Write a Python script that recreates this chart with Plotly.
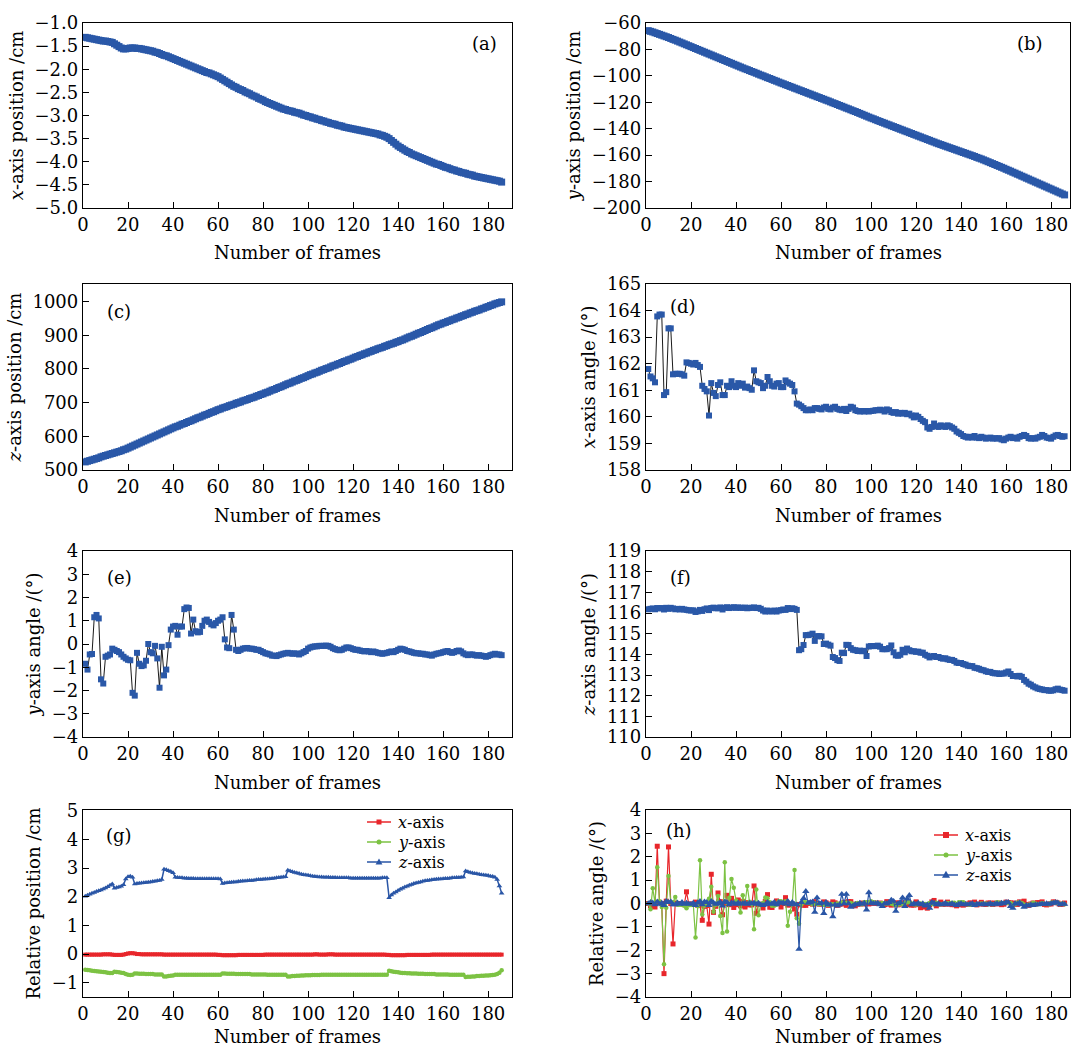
import plotly.graph_objects as go

FONT = "DejaVu Serif"
W, H = 1073, 1049
BLUE = "#2a58a8"
RED = "#e8262b"
GREEN = "#7cc243"
ZBLUE = "#2a56a6"

# ---------------- data ----------------
x_position = [
    -1.31, -1.32, -1.33, -1.34, -1.35, -1.36, -1.37, -1.38, -1.39, -1.39,
    -1.40, -1.41, -1.42, -1.45, -1.48, -1.51, -1.54, -1.56, -1.56, -1.55,
    -1.54, -1.54, -1.54, -1.55, -1.55, -1.56, -1.57, -1.58, -1.59, -1.60,
    -1.61, -1.63, -1.64, -1.66, -1.68, -1.70, -1.71, -1.73, -1.75, -1.77,
    -1.79, -1.81, -1.83, -1.85, -1.87, -1.89, -1.91, -1.93, -1.95, -1.97,
    -1.99, -2.01, -2.03, -2.05, -2.07, -2.08, -2.10, -2.12, -2.14, -2.16,
    -2.19, -2.22, -2.25, -2.28, -2.31, -2.34, -2.37, -2.39, -2.42, -2.44,
    -2.46, -2.49, -2.51, -2.53, -2.56, -2.58, -2.60, -2.63, -2.65, -2.67,
    -2.70, -2.72, -2.74, -2.76, -2.78, -2.80, -2.82, -2.84, -2.86, -2.87,
    -2.89, -2.90, -2.91, -2.93, -2.94, -2.95, -2.97, -2.99, -3.00, -3.02,
    -3.03, -3.05, -3.06, -3.08, -3.09, -3.11, -3.12, -3.14, -3.15, -3.17,
    -3.18, -3.19, -3.21, -3.22, -3.23, -3.25, -3.26, -3.27, -3.28, -3.29,
    -3.30, -3.31, -3.32, -3.33, -3.34, -3.35, -3.36, -3.37, -3.38, -3.39,
    -3.40, -3.42, -3.43, -3.45, -3.47, -3.50, -3.54, -3.58, -3.62, -3.66,
    -3.69, -3.72, -3.75, -3.78, -3.80, -3.83, -3.85, -3.87, -3.89, -3.91,
    -3.93, -3.95, -3.97, -3.99, -4.01, -4.03, -4.05, -4.06, -4.08, -4.10,
    -4.12, -4.13, -4.15, -4.17, -4.18, -4.20, -4.21, -4.23, -4.24, -4.25,
    -4.27, -4.28, -4.29, -4.31, -4.32, -4.33, -4.34, -4.35, -4.36, -4.37,
    -4.38, -4.39, -4.40, -4.41, -4.42, -4.44,
]

y_position = [
    -65.8, -66.3, -66.8, -67.4, -68.0, -68.6, -69.2, -69.8, -70.4, -71.0,
    -71.7, -72.4, -73.0, -73.7, -74.4, -75.1, -75.8, -76.5, -77.2, -77.9,
    -78.6, -79.3, -80.0, -80.7, -81.4, -82.1, -82.8, -83.5, -84.2, -84.9,
    -85.6, -86.3, -87.0, -87.7, -88.4, -89.1, -89.8, -90.5, -91.2, -91.9,
    -92.6, -93.3, -94.0, -94.7, -95.3, -96.0, -96.7, -97.3, -98.0, -98.7,
    -99.4, -100.0, -100.7, -101.4, -102.0, -102.7, -103.4, -104.0, -104.7, -105.4,
    -106.0, -106.7, -107.3, -108.0, -108.6, -109.3, -109.9, -110.6, -111.2, -111.9,
    -112.5, -113.2, -113.8, -114.5, -115.1, -115.8, -116.4, -117.1, -117.7, -118.4,
    -119.0, -119.7, -120.4, -121.0, -121.7, -122.4, -123.0, -123.7, -124.4, -125.0,
    -125.7, -126.4, -127.0, -127.7, -128.4, -129.1, -129.8, -130.5, -131.2, -131.9,
    -132.5, -133.2, -133.9, -134.5, -135.2, -135.8, -136.5, -137.1, -137.8, -138.4,
    -139.1, -139.7, -140.4, -141.0, -141.7, -142.3, -143.0, -143.6, -144.3, -144.9,
    -145.6, -146.2, -146.9, -147.5, -148.2, -148.8, -149.5, -150.1, -150.8, -151.4,
    -152.0, -152.6, -153.2, -153.8, -154.4, -155.0, -155.6, -156.2, -156.8, -157.4,
    -158.0, -158.6, -159.2, -159.8, -160.4, -161.0, -161.7, -162.3, -162.9, -163.6,
    -164.3, -165.0, -165.7, -166.4, -167.1, -167.8, -168.5, -169.2, -169.9, -170.7,
    -171.4, -172.1, -172.9, -173.6, -174.4, -175.1, -175.9, -176.6, -177.4, -178.1,
    -178.9, -179.6, -180.4, -181.1, -181.9, -182.6, -183.4, -184.1, -184.9, -185.6,
    -186.4, -187.1, -187.9, -188.6, -189.4, -190.1,
]

z_position = [
    524, 526, 528, 530, 532, 534, 536, 539, 541, 543,
    545, 547, 549, 551, 553, 555, 557, 560, 562, 565,
    568, 571, 574, 577, 580, 583, 586, 589, 592, 595,
    598, 601, 604, 607, 610, 613, 616, 619, 622, 625,
    628, 630, 633, 636, 638, 641, 644, 646, 649, 652,
    655, 657, 660, 663, 665, 668, 671, 673, 676, 679,
    681, 684, 686, 688, 691, 693, 695, 698, 700, 702,
    705, 707, 709, 712, 714, 716, 719, 721, 724, 726,
    729, 731, 734, 737, 739, 742, 745, 747, 750, 753,
    756, 758, 761, 764, 766, 769, 772, 774, 777, 780,
    783, 785, 788, 790, 793, 796, 798, 801, 803, 806,
    809, 811, 814, 816, 819, 822, 824, 827, 829, 832,
    835, 837, 840, 842, 845, 847, 850, 852, 855, 857,
    860, 862, 864, 867, 869, 872, 874, 876, 879, 881,
    884, 886, 889, 892, 895, 897, 900, 903, 906, 908,
    911, 914, 917, 920, 922, 925, 928, 931, 933, 936,
    938, 941, 943, 946, 948, 951, 953, 956, 958, 961,
    963, 966, 968, 971, 973, 975, 978, 980, 983, 985,
    988, 990, 993, 995, 997, 999,
]

x_angle = [
    161.80, 161.52, 161.45, 161.30, 163.78, 163.85, 163.85, 160.82, 160.93, 163.33,
    163.33, 161.60, 161.62, 161.62, 161.62, 161.60, 161.55, 162.05, 162.03, 162.00,
    161.97, 162.03, 161.95, 161.88, 161.17, 161.05, 160.96, 160.05, 161.27, 160.90,
    160.78, 161.20, 161.30, 160.82, 160.82, 161.17, 161.12, 161.34, 161.17, 161.12,
    161.27, 161.17, 161.25, 161.10, 161.14, 161.08, 161.02, 161.75, 161.34, 161.30,
    161.27, 161.08, 161.17, 161.50, 161.34, 161.17, 161.14, 161.25, 161.27, 161.12,
    161.12, 161.37, 161.30, 161.25, 161.20, 160.96, 160.50, 160.46, 160.40, 160.33,
    160.25, 160.25, 160.28, 160.25, 160.33, 160.33, 160.30, 160.28, 160.35, 160.38,
    160.30, 160.28, 160.35, 160.38, 160.30, 160.27, 160.25, 160.30, 160.22, 160.30,
    160.38, 160.35, 160.25, 160.22, 160.20, 160.22, 160.20, 160.22, 160.20, 160.22,
    160.23, 160.25, 160.25, 160.27, 160.25, 160.20, 160.28, 160.25, 160.18, 160.15,
    160.18, 160.12, 160.15, 160.12, 160.15, 160.10, 160.12, 160.05, 159.98, 160.05,
    160.00, 159.92, 159.85, 159.80, 159.60, 159.55, 159.62, 159.75, 159.65, 159.62,
    159.68, 159.65, 159.62, 159.68, 159.65, 159.60, 159.55, 159.45, 159.40, 159.35,
    159.28, 159.25, 159.22, 159.25, 159.22, 159.28, 159.22, 159.20, 159.25, 159.22,
    159.18, 159.20, 159.22, 159.18, 159.20, 159.18, 159.20, 159.15, 159.12, 159.18,
    159.22, 159.25, 159.20, 159.22, 159.18, 159.25, 159.28, 159.32, 159.28, 159.20,
    159.18, 159.20, 159.18, 159.22, 159.25, 159.32, 159.28, 159.22, 159.20, 159.18,
    159.25, 159.30, 159.32, 159.28, 159.25, 159.27,
]

y_angle = [
    -0.85, -1.10, -0.45, -0.43, 1.15, 1.25, 1.10, -1.52, -1.70, -0.55,
    -0.50, -0.45, -0.20, -0.25, -0.30, -0.35, -0.45, -0.55, -0.62, -0.68,
    -0.70, -2.10, -2.22, -0.38, -0.85, -0.95, -0.92, -0.72, 0.00, -0.35,
    -0.40, -0.08, -0.62, -1.88, -0.12, -1.35, -1.10, -0.05, 0.62, 0.75,
    0.78, 0.40, 0.75, 0.75, 1.50, 1.57, 1.55, 0.45, 1.05, 0.55,
    0.50, 0.52, 0.78, 1.00, 1.05, 0.95, 0.85, 0.80, 0.90, 1.00,
    1.05, 1.15, 0.20, -0.15, -0.18, 1.25, 0.62, -0.25, -0.30, -0.25,
    -0.20, -0.18, -0.17, -0.20, -0.20, -0.22, -0.25, -0.25, -0.30, -0.35,
    -0.40, -0.42, -0.45, -0.50, -0.50, -0.52, -0.48, -0.45, -0.42, -0.40,
    -0.38, -0.40, -0.42, -0.40, -0.42, -0.45, -0.40, -0.35, -0.30, -0.20,
    -0.15, -0.12, -0.10, -0.10, -0.08, -0.08, -0.08, -0.07, -0.08, -0.12,
    -0.18, -0.22, -0.25, -0.27, -0.25, -0.20, -0.15, -0.15, -0.18, -0.22,
    -0.25, -0.25, -0.28, -0.30, -0.32, -0.30, -0.32, -0.35, -0.32, -0.35,
    -0.38, -0.40, -0.42, -0.40, -0.38, -0.35, -0.32, -0.35, -0.30, -0.25,
    -0.20, -0.22, -0.25, -0.30, -0.32, -0.35, -0.38, -0.40, -0.40, -0.42,
    -0.42, -0.45, -0.45, -0.48, -0.50, -0.45, -0.42, -0.40, -0.38, -0.35,
    -0.32, -0.30, -0.35, -0.38, -0.35, -0.30, -0.28, -0.32, -0.40, -0.45,
    -0.48, -0.45, -0.45, -0.48, -0.50, -0.48, -0.50, -0.52, -0.55, -0.52,
    -0.48, -0.45, -0.42, -0.45, -0.45, -0.48,
]

z_angle = [
    116.18, 116.20, 116.22, 116.18, 116.24, 116.22, 116.24, 116.17, 116.25, 116.20,
    116.25, 116.22, 116.18, 116.20, 116.17, 116.20, 116.17, 116.15, 116.13, 116.12,
    116.13, 116.05, 116.08, 116.15, 116.10, 116.18, 116.22, 116.14, 116.24, 116.26,
    116.23, 116.23, 116.27, 116.17, 116.25, 116.28, 116.24, 116.26, 116.28, 116.25,
    116.27, 116.25, 116.25, 116.26, 116.23, 116.25, 116.25, 116.27, 116.24, 116.25,
    116.20, 116.12, 116.07, 116.12, 116.08, 116.08, 116.12, 116.07, 116.12, 116.14,
    116.17, 116.15, 116.24, 116.19, 116.23, 116.20, 116.15, 114.20, 114.25, 114.45,
    114.93, 114.93, 114.95, 115.00, 114.65, 114.88, 114.88, 114.87, 114.50, 114.52,
    114.47, 114.42, 113.87, 113.82, 113.72, 113.68, 114.08, 114.06, 114.46, 114.45,
    114.30, 114.22, 114.20, 114.16, 114.18, 114.15, 114.17, 113.92, 114.38, 114.40,
    114.40, 114.40, 114.42, 114.37, 114.25, 114.25, 114.25, 114.30, 114.43, 114.10,
    113.95, 113.93, 113.98, 114.22, 114.10, 114.28, 114.20, 114.15, 114.15, 114.12,
    114.13, 114.08, 114.08, 113.98, 113.93, 113.85, 113.90, 113.92, 113.87, 113.87,
    113.82, 113.79, 113.81, 113.76, 113.73, 113.73, 113.68, 113.60, 113.58, 113.58,
    113.53, 113.50, 113.45, 113.43, 113.43, 113.35, 113.33, 113.30, 113.25, 113.23,
    113.18, 113.15, 113.15, 113.10, 113.08, 113.08, 113.05, 113.07, 113.07, 113.12,
    113.17, 113.05, 112.95, 112.95, 112.93, 112.96, 112.91, 112.76, 112.68, 112.58,
    112.53, 112.45, 112.40, 112.35, 112.32, 112.30, 112.27, 112.27, 112.24, 112.24,
    112.26, 112.31, 112.34, 112.29, 112.27, 112.24,
]

rel_pos_x = [
    -0.02, -0.02, -0.02, -0.02, -0.02, -0.02, -0.02, -0.02, -0.01, -0.01,
    -0.01, -0.01, -0.02, -0.03, -0.03, -0.03, -0.03, -0.02, 0.00, 0.02,
    0.03, 0.03, 0.02, 0.00, 0.00, -0.01, -0.01, -0.01, -0.01, -0.01,
    -0.01, -0.01, -0.01, -0.01, -0.01, -0.02, -0.02, -0.02, -0.02, -0.02,
    -0.02, -0.02, -0.02, -0.02, -0.02, -0.02, -0.02, -0.02, -0.02, -0.02,
    -0.02, -0.02, -0.02, -0.02, -0.02, -0.02, -0.02, -0.02, -0.02, -0.03,
    -0.03, -0.04, -0.04, -0.04, -0.04, -0.04, -0.04, -0.04, -0.03, -0.03,
    -0.03, -0.03, -0.03, -0.03, -0.03, -0.03, -0.03, -0.03, -0.03, -0.03,
    -0.02, -0.02, -0.02, -0.02, -0.02, -0.02, -0.02, -0.02, -0.02, -0.02,
    -0.02, -0.02, -0.02, -0.02, -0.02, -0.02, -0.02, -0.02, -0.02, -0.02,
    -0.02, -0.02, -0.01, -0.01, -0.02, -0.02, -0.02, -0.02, -0.01, -0.01,
    -0.01, -0.02, -0.02, -0.02, -0.02, -0.02, -0.02, -0.02, -0.02, -0.02,
    -0.02, -0.02, -0.02, -0.02, -0.02, -0.02, -0.02, -0.02, -0.02, -0.02,
    -0.02, -0.02, -0.02, -0.02, -0.03, -0.03, -0.04, -0.04, -0.04, -0.04,
    -0.04, -0.04, -0.04, -0.03, -0.03, -0.03, -0.03, -0.03, -0.03, -0.03,
    -0.03, -0.03, -0.03, -0.03, -0.02, -0.02, -0.02, -0.02, -0.02, -0.02,
    -0.02, -0.02, -0.02, -0.02, -0.02, -0.02, -0.02, -0.02, -0.02, -0.02,
    -0.02, -0.02, -0.02, -0.02, -0.02, -0.02, -0.02, -0.02, -0.02, -0.02,
    -0.02, -0.02, -0.02, -0.02, -0.02, -0.02,
]

rel_pos_y = [
    -0.55, -0.56, -0.57, -0.58, -0.59, -0.60, -0.61, -0.62, -0.63, -0.64,
    -0.65, -0.66, -0.66, -0.62, -0.63, -0.64, -0.65, -0.66, -0.70, -0.72,
    -0.73, -0.72, -0.68, -0.68, -0.69, -0.69, -0.69, -0.70, -0.70, -0.70,
    -0.70, -0.71, -0.71, -0.71, -0.71, -0.78, -0.78, -0.77, -0.76, -0.75,
    -0.72, -0.72, -0.72, -0.72, -0.72, -0.72, -0.72, -0.72, -0.72, -0.72,
    -0.72, -0.72, -0.72, -0.72, -0.72, -0.72, -0.72, -0.72, -0.72, -0.72,
    -0.72, -0.68, -0.68, -0.69, -0.69, -0.69, -0.69, -0.70, -0.70, -0.70,
    -0.70, -0.70, -0.70, -0.70, -0.71, -0.71, -0.71, -0.71, -0.71, -0.71,
    -0.71, -0.72, -0.72, -0.72, -0.72, -0.72, -0.72, -0.72, -0.72, -0.72,
    -0.78, -0.78, -0.77, -0.77, -0.76, -0.76, -0.75, -0.75, -0.74, -0.74,
    -0.74, -0.73, -0.73, -0.73, -0.73, -0.72, -0.72, -0.72, -0.72, -0.72,
    -0.72, -0.72, -0.72, -0.72, -0.72, -0.72, -0.72, -0.72, -0.72, -0.72,
    -0.72, -0.72, -0.72, -0.72, -0.72, -0.72, -0.72, -0.72, -0.72, -0.72,
    -0.72, -0.72, -0.72, -0.72, -0.72, -0.58, -0.60, -0.62, -0.63, -0.64,
    -0.65, -0.66, -0.66, -0.67, -0.67, -0.68, -0.68, -0.68, -0.69, -0.69,
    -0.69, -0.70, -0.70, -0.70, -0.70, -0.70, -0.71, -0.71, -0.71, -0.71,
    -0.71, -0.71, -0.72, -0.72, -0.72, -0.72, -0.72, -0.72, -0.72, -0.80,
    -0.79, -0.79, -0.78, -0.78, -0.77, -0.77, -0.76, -0.76, -0.75, -0.75,
    -0.74, -0.73, -0.72, -0.70, -0.65, -0.57,
]

rel_pos_z = [
    2.02, 2.05, 2.09, 2.12, 2.15, 2.18, 2.21, 2.24, 2.27, 2.31,
    2.35, 2.40, 2.45, 2.30, 2.32, 2.34, 2.37, 2.42, 2.62, 2.70,
    2.72, 2.68, 2.45, 2.46, 2.47, 2.48, 2.49, 2.50, 2.51, 2.52,
    2.53, 2.54, 2.56, 2.57, 2.60, 2.96, 2.94, 2.91, 2.88, 2.84,
    2.68, 2.67, 2.66, 2.66, 2.65, 2.65, 2.64, 2.64, 2.64, 2.63,
    2.63, 2.63, 2.63, 2.63, 2.63, 2.63, 2.63, 2.63, 2.63, 2.63,
    2.62, 2.46, 2.48, 2.49, 2.50, 2.51, 2.52, 2.52, 2.53, 2.54,
    2.55, 2.55, 2.56, 2.57, 2.57, 2.58, 2.59, 2.60, 2.60, 2.61,
    2.62, 2.62, 2.63, 2.64, 2.65, 2.66, 2.67, 2.68, 2.69, 2.70,
    2.93, 2.90, 2.87, 2.85, 2.83, 2.81, 2.79, 2.77, 2.76, 2.75,
    2.73, 2.72, 2.71, 2.70, 2.69, 2.69, 2.68, 2.68, 2.68, 2.67,
    2.67, 2.67, 2.66, 2.66, 2.66, 2.66, 2.66, 2.66, 2.65, 2.65,
    2.65, 2.65, 2.65, 2.65, 2.65, 2.65, 2.65, 2.65, 2.65, 2.65,
    2.65, 2.65, 2.66, 2.66, 2.66, 1.97, 2.06, 2.12, 2.17, 2.22,
    2.26, 2.30, 2.34, 2.37, 2.40, 2.43, 2.46, 2.48, 2.50, 2.52,
    2.54, 2.56, 2.57, 2.58, 2.59, 2.60, 2.61, 2.62, 2.62, 2.63,
    2.64, 2.64, 2.65, 2.66, 2.66, 2.67, 2.67, 2.68, 2.69, 2.90,
    2.87, 2.85, 2.83, 2.81, 2.80, 2.79, 2.77, 2.76, 2.75, 2.74,
    2.72, 2.71, 2.68, 2.60, 2.38, 2.12,
]

rel_ang_x = [
    0.00, -0.10, -0.12, -0.15, 2.45, 0.05, 0.00, -3.00, 0.10, 2.42,
    0.00, -1.73, 0.02, 0.00, 0.00, -0.02, -0.05, 0.50, -0.02, -0.03,
    -0.03, 0.06, -0.08, -0.07, -0.72, -0.12, -0.09, -0.88, 1.25, -0.38,
    -0.12, 0.45, 0.08, -0.48, 0.00, 0.35, -0.05, 0.22, -0.17, -0.05,
    0.15, -0.10, 0.08, -0.15, 0.04, -0.06, -0.06, 0.75, -0.42, -0.04,
    -0.03, -0.19, 0.09, 0.38, -0.16, -0.17, -0.03, 0.11, 0.02, -0.15,
    0.00, 0.25, -0.07, -0.05, -0.05, -0.24, -0.46, -0.04, -0.06, -0.07,
    -0.08, 0.00, 0.03, -0.03, 0.08, 0.00, -0.03, -0.02, 0.07, 0.03,
    -0.08, -0.02, 0.07, 0.03, -0.08, -0.03, -0.02, 0.05, -0.08, 0.08,
    0.08, -0.03, -0.10, -0.03, -0.02, 0.02, -0.02, 0.02, -0.02, 0.02,
    0.01, 0.02, 0.00, 0.02, -0.02, -0.05, 0.08, -0.03, -0.07, -0.03,
    0.03, -0.06, 0.03, -0.03, 0.03, -0.05, 0.02, -0.07, -0.07, 0.07,
    -0.05, -0.18, -0.07, -0.15, -0.20, -0.05, 0.07, 0.13, -0.10, -0.03,
    0.06, -0.03, -0.03, 0.06, -0.03, -0.05, -0.05, -0.10, -0.05, -0.05,
    -0.07, -0.03, -0.03, 0.03, -0.03, 0.06, -0.06, -0.02, 0.05, -0.03,
    -0.04, 0.02, 0.02, -0.04, 0.02, -0.02, 0.02, -0.05, -0.03, 0.06,
    0.04, 0.03, -0.05, 0.02, -0.04, 0.07, 0.03, 0.10, -0.04, -0.08,
    -0.02, 0.02, -0.02, 0.04, 0.03, 0.07, -0.04, -0.06, -0.02, -0.02,
    0.07, 0.05, 0.02, -0.04, -0.03, 0.02,
]

rel_ang_y = [
    0.00, -0.25, 0.65, 0.02, 1.55, 0.10, -0.15, -2.60, -0.18, 1.18,
    0.05, 0.05, 0.28, -0.05, -0.05, -0.05, -0.10, -0.20, -0.07, -0.06,
    -0.02, -1.45, -0.12, 1.85, -0.47, -0.10, 0.03, 0.20, 0.72, -0.35,
    -0.05, 0.32, -0.54, -1.26, 1.76, -1.20, 0.25, 1.05, 0.67, 0.13,
    0.03, -0.38, 0.35, 0.00, 0.75, 0.07, -0.02, -1.10, 0.60, -0.50,
    -0.05, 0.02, 0.26, 0.22, 0.05, -0.10, -0.10, -0.05, 0.10, 0.10,
    0.05, 0.10, -0.95, -0.35, -0.03, 1.43, -0.63, -0.87, -0.05, 0.05,
    0.05, 0.02, 0.01, -0.03, 0.00, -0.02, -0.03, 0.00, -0.05, -0.05,
    -0.05, -0.02, -0.03, -0.05, 0.00, -0.02, 0.04, 0.03, 0.03, 0.02,
    0.02, -0.02, -0.02, 0.02, -0.02, -0.03, 0.05, 0.05, 0.05, 0.10,
    0.05, 0.03, 0.02, 0.00, 0.02, 0.00, 0.00, 0.01, -0.01, -0.04,
    -0.06, -0.04, -0.03, -0.02, 0.02, 0.05, 0.05, 0.00, -0.03, -0.04,
    -0.03, 0.00, -0.03, -0.02, -0.02, 0.02, -0.02, -0.03, 0.03, -0.03,
    -0.03, -0.02, -0.02, 0.02, 0.02, 0.03, 0.03, -0.03, 0.05, 0.05,
    0.05, -0.02, -0.03, -0.05, -0.02, -0.03, -0.03, -0.02, 0.00, -0.02,
    0.00, -0.03, 0.00, -0.03, -0.02, 0.05, 0.03, 0.02, 0.02, 0.03,
    0.03, 0.02, -0.05, -0.03, 0.03, 0.05, 0.02, -0.04, -0.08, -0.05,
    -0.03, 0.03, 0.00, -0.03, -0.02, 0.02, -0.02, -0.02, -0.03, 0.03,
    0.04, 0.03, 0.03, -0.03, 0.00, -0.03,
]

rel_ang_z = [
    0.00, 0.05, 0.03, -0.05, 0.08, -0.03, 0.02, -0.08, 0.10, 0.05,
    0.08, -0.05, -0.05, 0.03, -0.03, 0.05, -0.03, 0.02, -0.02, -0.03,
    0.02, -0.08, 0.03, 0.10, -0.05, 0.08, 0.05, -0.08, 0.10, 0.03,
    -0.03, 0.00, 0.05, -0.10, 0.08, 0.05, -0.05, 0.03, 0.02, -0.03,
    0.03, -0.02, 0.00, 0.02, -0.03, 0.02, 0.00, 0.03, -0.03, 0.02,
    -0.05, -0.08, -0.05, 0.05, -0.03, 0.00, 0.05, -0.05, 0.05, 0.02,
    0.03, -0.02, 0.10, -0.05, 0.05, -0.03, -0.05, -1.95, 0.05, 0.22,
    0.52, 0.02, 0.05, 0.08, -0.37, 0.25, 0.00, 0.02, -0.42, 0.05,
    -0.05, -0.05, -0.56, -0.05, -0.10, -0.05, 0.40, 0.00, 0.40, 0.00,
    -0.15, -0.10, -0.03, -0.05, 0.02, -0.03, 0.02, -0.27, 0.47, 0.02,
    0.00, 0.00, 0.02, -0.05, -0.12, 0.00, 0.00, 0.05, 0.15, 0.10,
    -0.33, 0.00, 0.05, 0.25, -0.12, 0.20, 0.35, -0.05, 0.00, -0.03,
    0.02, -0.05, 0.00, -0.10, -0.05, -0.20, 0.05, 0.02, -0.05, 0.00,
    -0.05, -0.03, 0.02, -0.05, -0.03, 0.00, -0.05, -0.08, -0.02, 0.00,
    -0.05, -0.03, -0.05, -0.02, 0.00, -0.08, -0.02, -0.03, -0.05, -0.02,
    -0.05, -0.03, 0.00, -0.05, -0.02, 0.00, -0.03, 0.02, 0.00, 0.05,
    0.05, -0.12, -0.20, 0.00, -0.02, 0.03, -0.05, -0.15, -0.08, -0.10,
    -0.05, -0.08, -0.05, -0.05, -0.03, -0.02, -0.03, 0.00, -0.03, 0.00,
    0.02, 0.05, 0.03, -0.05, -0.02, -0.03,
]

legend_labels = ["<i>x</i>-axis", "<i>y</i>-axis", "<i>z</i>-axis"]
x_title = "Number of frames"
x_ticks_step = 20


def frames(series):
    return list(range(1, len(series) + 1))


def ax_id(i):
    return "" if i == 1 else str(i)


# ---------------- layout geometry (pixels in the 1073x1049 page) ----------------
LEFT = (83, 512)
RIGHT = (646, 1070)
ROWS = [(23, 208), (284, 470), (551, 737), (810, 997)]


def xdom(c):
    return [c[0] / W, c[1] / W]


def ydom(r):
    return [1 - r[1] / H, 1 - r[0] / H]


panels = [
    dict(tag="(a)", col=LEFT, row=ROWS[0], yr=[-5, -1], dt=0.5, t0=-5, fmt=".1f",
         title="<i>x</i>-axis position /cm", xmax=190.6, lab=(0.935, 0.89)),
    dict(tag="(b)", col=RIGHT, row=ROWS[0], yr=[-200, -60], dt=20, t0=-200, fmt="",
         title="<i>y</i>-axis position /cm", xmax=188.4, lab=(0.905, 0.89)),
    dict(tag="(c)", col=LEFT, row=ROWS[1], yr=[500, 1052], dt=100, t0=500, fmt="",
         title="<i>z</i>-axis position /cm", xmax=190.6, lab=(0.085, 0.85)),
    dict(tag="(d)", col=RIGHT, row=ROWS[1], yr=[158, 165], dt=1, t0=158, fmt="",
         title="<i>x</i>-axis angle /(°)", xmax=188.4, lab=(0.088, 0.877)),
    dict(tag="(e)", col=LEFT, row=ROWS[2], yr=[-4, 4], dt=1, t0=-4, fmt="",
         title="<i>y</i>-axis angle /(°)", xmax=190.6, lab=(0.086, 0.86)),
    dict(tag="(f)", col=RIGHT, row=ROWS[2], yr=[110, 119], dt=1, t0=110, fmt="",
         title="<i>z</i>-axis angle /(°)", xmax=188.4, lab=(0.082, 0.86)),
    dict(tag="(g)", col=LEFT, row=ROWS[3], yr=[-1.5, 5.03], dt=1, t0=-1, fmt="",
         title="Relative position /cm", xmax=190.6, lab=(0.085, 0.866)),
    dict(tag="(h)", col=RIGHT, row=ROWS[3], yr=[-4, 4], dt=1, t0=-4, fmt="",
         title="Relative angle /(°)", xmax=188.4, lab=(0.078, 0.893)),
]

fig = go.Figure()


def add_single(i, series, msize):
    fig.add_trace(go.Scatter(
        x=frames(series), y=series, mode="lines+markers",
        xaxis="x" + ax_id(i), yaxis="y" + ax_id(i), showlegend=False,
        line=dict(color="black", width=0.9),
        marker=dict(symbol="square", size=msize, color=BLUE, line=dict(width=0)),
    ))


add_single(1, x_position, 7)
add_single(2, y_position, 7)
add_single(3, z_position, 7)
add_single(4, x_angle, 6)
add_single(5, y_angle, 6)
add_single(6, z_angle, 6)

styles = [("square", RED), ("circle", GREEN), ("triangle-up", ZBLUE)]

for series, (sym, col), lab, ms in zip([rel_pos_x, rel_pos_y, rel_pos_z], styles, legend_labels, [4, 4.5, 5]):
    fig.add_trace(go.Scatter(
        x=frames(series), y=series, mode="lines+markers", name=lab,
        xaxis="x7", yaxis="y7", showlegend=False,
        line=dict(color=col, width=1.5),
        marker=dict(symbol=sym, size=ms, color=col, line=dict(width=0)),
    ))

for series, (sym, col), lab, ms in zip([rel_ang_x, rel_ang_y, rel_ang_z], styles, legend_labels, [5, 4.5, 6.5]):
    fig.add_trace(go.Scatter(
        x=frames(series), y=series, mode="lines+markers", name=lab,
        xaxis="x8", yaxis="y8", showlegend=False,
        line=dict(color=col, width=1.2),
        marker=dict(symbol=sym, size=ms, color=col, line=dict(width=0)),
    ))

FS = 18
tickfont = dict(family=FONT, size=FS, color="black")
titlefont = dict(family=FONT, size=FS, color="black")
common = dict(showline=True, linecolor="black", linewidth=1.3, mirror=True,
              ticks="inside", ticklen=6, tickwidth=1.2, tickcolor="black",
              showgrid=False, zeroline=False, automargin=False,
              tickfont=tickfont)

layout = dict(
    width=W, height=H, margin=dict(l=0, r=0, t=0, b=0),
    paper_bgcolor="white", plot_bgcolor="white",
    showlegend=False,
    font=dict(family=FONT, size=FS, color="black"),
)
annotations = []
for i, p in enumerate(panels, start=1):
    sid = ax_id(i)
    layout["xaxis" + sid] = dict(
        common, domain=xdom(p["col"]), anchor="y" + sid,
        range=[0, p["xmax"]], tick0=0, dtick=x_ticks_step,
    )
    yax = dict(
        common, domain=ydom(p["row"]), anchor="x" + sid,
        range=p["yr"], tick0=p["t0"], dtick=p["dt"],
        title=dict(text=p["title"], font=titlefont, standoff=6),
    )
    if p["fmt"]:
        yax["tickformat"] = p["fmt"]
    layout["yaxis" + sid] = yax
    # x-axis title placed under the tick labels (bottom row kept inside the page)
    shift = -39 if p["row"] == ROWS[3] else -45
    annotations.append(dict(
        text=x_title, xref="x" + sid + " domain", yref="y" + sid + " domain",
        x=0.5, y=0, yshift=shift, showarrow=False,
        xanchor="center", yanchor="middle", font=titlefont,
    ))
    annotations.append(dict(
        text=p["tag"], xref="x" + sid + " domain", yref="y" + sid + " domain",
        x=p["lab"][0], y=p["lab"][1], showarrow=False,
        xanchor="center", yanchor="middle",
        font=dict(family=FONT, size=FS, color="black"),
    ))

# ---------------- hand-drawn legends (tight row spacing as in the reference) ----------------
shapes = []


def px(x):
    return x / W


def py(y):
    return 1 - y / H


def legend_block(x0, x1, text_x, rows_y, sizes):
    for (sym, col), lab, yy, s in zip(styles, legend_labels, rows_y, sizes):
        shapes.append(dict(type="line", xref="paper", yref="paper",
                           x0=px(x0), x1=px(x1), y0=py(yy), y1=py(yy),
                           line=dict(color=col, width=1.5)))
        cx = (x0 + x1) / 2
        r = s / 2
        if sym == "square":
            shapes.append(dict(type="rect", xref="paper", yref="paper",
                               x0=px(cx - r), x1=px(cx + r), y0=py(yy + r), y1=py(yy - r),
                               fillcolor=col, line=dict(width=0)))
        elif sym == "circle":
            shapes.append(dict(type="circle", xref="paper", yref="paper",
                               x0=px(cx - r), x1=px(cx + r), y0=py(yy + r), y1=py(yy - r),
                               fillcolor=col, line=dict(width=0)))
        else:
            path = (f"M {px(cx - r * 1.15)} {py(yy + r * 0.8)} "
                    f"L {px(cx + r * 1.15)} {py(yy + r * 0.8)} "
                    f"L {px(cx)} {py(yy - r * 1.2)} Z")
            shapes.append(dict(type="path", xref="paper", yref="paper", path=path,
                               fillcolor=col, line=dict(width=0)))
        annotations.append(dict(text=lab, xref="paper", yref="paper",
                                x=px(text_x), y=py(yy), showarrow=False,
                                xanchor="left", yanchor="middle",
                                font=dict(family=FONT, size=16, color="black")))


legend_block(367, 391, 396, [822, 842, 862], [5, 5, 6])
legend_block(934, 958, 963, [835, 855, 875], [6, 5, 7])

layout["annotations"] = annotations
layout["shapes"] = shapes
fig.update_layout(**layout)

fig.write_html("out.html", config={"displayModeBar": False},
               post_script="document.body.style.margin='0px';")
